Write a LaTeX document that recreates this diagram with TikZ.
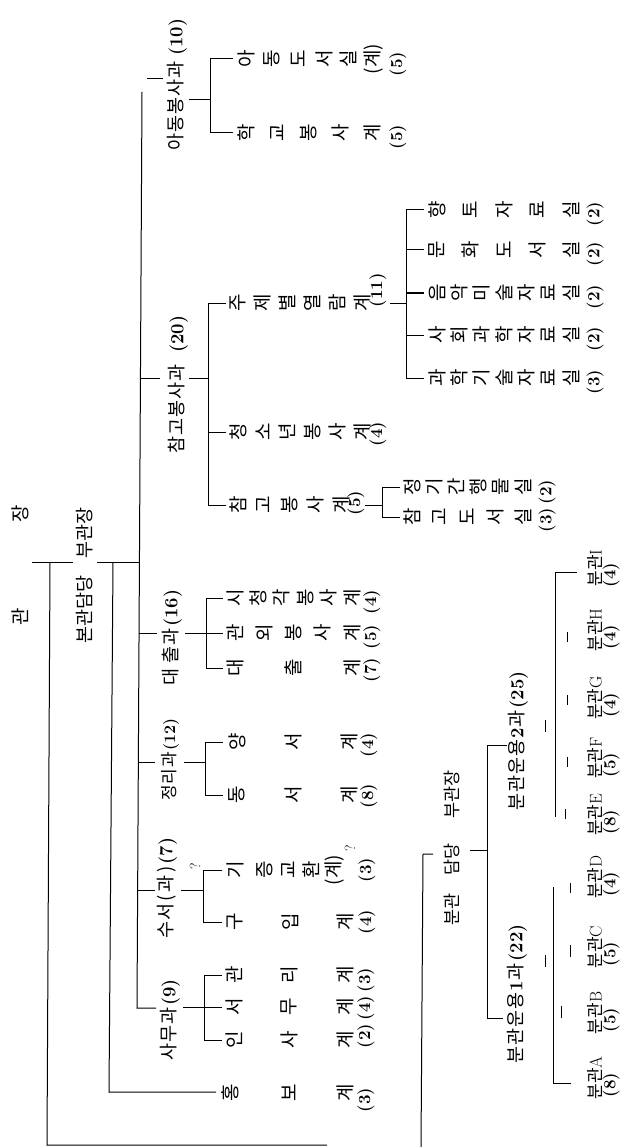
\documentclass[tikz,border=0pt]{standalone}
\usepackage{fontspec}
\newfontfamily\kr{Noto Sans CJK KR}
\newcommand\gp{\kern1pt}
\newcommand\cnum[1]{{\rmfamily\bfseries #1}}
\newcommand\leaf[3]{\foreach \gx/\gt [count=\gi] in {#3}{\node[kg] (#1-\gi) at (\gx,#2) {\gt};}}
\tikzset{
  ln/.style={line width=1pt},
  kg/.style={rotate=90,inner sep=0pt,font=\kr\fontsize{19}{19}\selectfont},
  dept/.style={rotate=90,inner sep=0pt,anchor=west,font=\kr\fontsize{18.5}{18.5}\selectfont},
  cnt/.style={rotate=90,inner sep=0pt,font=\rmfamily\bfseries\fontsize{17}{17}\selectfont},
  br/.style={rotate=90,inner sep=0pt,font=\kr\fontsize{17}{17}\selectfont},
  qm/.style={rotate=90,inner sep=0pt,font=\rmfamily\fontsize{15}{15}\selectfont},
}
\begin{document}
\begin{tikzpicture}[x=1pt,y=-1pt]
\fill[white] (0,0) rectangle (621,1147);
\useasboundingbox (0,0) rectangle (621,1147);

% ---------- root ----------
\node[dept,anchor=center,font=\kr\fontsize{19}{19}\selectfont] (root) at (20,565) {관\kern86pt 장};
\node[dept,font=\kr\fontsize{18.5}{18.5}\selectfont] (bon) at (85,644) {본관담당\kern17pt 부관장};
\coordinate (j0) at (32,562);
\coordinate (j1) at (73,562);
\coordinate (j2) at (97,562);
\coordinate (j3) at (139.5,562);
\draw[ln] (j0) -- (j1);
\draw[ln] (j2) -- (j3);
\coordinate (lA) at (50,562);
\coordinate (lB) at (47,1145);
\coordinate (lC) at (327,1145);
\draw[ln] (lA) -- (lB) -- (lC);
\coordinate (hA) at (113,562);
\coordinate (hB) at (109,1092);
\coordinate (hC) at (216,1092);
\draw[ln] (hA) -- (hB) -- (hC);
\coordinate (mA) at (142,92);
\coordinate (mB) at (137,1008);
\coordinate (mC) at (156,1008);
\draw[ln] (mA) -- (mB) -- (mC);

% ---------- departments ----------
\node[dept] (adong) at (177,151) {아\gp 동\gp 봉\gp 사\gp 과\kern6pt\cnum{(10)}};
\node[dept] (chamgo) at (178,454) {참\gp 고\gp 봉\gp 사\gp 과\kern12pt\cnum{(20)}};
\node[dept] (daechul) at (172,686) {대\kern5pt 출\gp 과\kern2pt\cnum{(16)}};
\node[dept,font=\kr\fontsize{17}{17}\selectfont] (jeongri) at (170,801) {정\kern1pt 리\kern1pt 과\kern1pt{\fontsize{16}{16}\selectfont\cnum{(12)}}};
\node[dept] (suseo) at (167,939) {수\gp 서\kern2pt(\kern3pt 과\kern3pt)\kern2pt\cnum{(7)}};
\node[dept] (samu) at (170,1061) {사\gp 무\gp 과\kern2pt\cnum{(9)}};
\node[qm] (q1) at (195,866) {?};

% stubs from main bar
\draw[ln] (147,79) -- (163,79);
\draw[ln] (140.5,378) -- (160,378);
\draw[ln] (139,633) -- (157,633);
\draw[ln] (138.5,762) -- (155,762);
\draw[ln] (138,890) -- (155,890);

% connectors to children bars
\draw[ln] (189,100) -- (210,100);
\draw[ln] (189,378) -- (208,378);
\draw[ln] (185,633) -- (206,633);
\draw[ln] (184,762) -- (205,762);
\draw[ln] (181,890) -- (203,890);
\draw[ln] (183,1007) -- (204,1007);

% children bars
\draw[ln] (233,59) -- (210,59) -- (210,133) -- (233,133);
\draw[ln] (226,303) -- (208,303) -- (208,505) -- (226,505);
\draw[ln] (208,432) -- (226,432);
\draw[ln] (223,598) -- (206,598) -- (206,668) -- (223,668);
\draw[ln] (206,633) -- (223,633);
\draw[ln] (223,742) -- (205,742) -- (205,795) -- (223,795);
\draw[ln] (222,870) -- (203,870) -- (203,922) -- (222,922);
\draw[ln] (222,975) -- (204,975) -- (204,1040) -- (222,1040);
\draw[ln] (204,1007) -- (222,1007);
\draw[ln] (390,303) -- (406,303);
\draw[ln] (424,210) -- (406,210) -- (406,378) -- (424,378);
\draw[ln] (406,250) -- (424,250);
\draw[ln] (406,293) -- (424,293);
\draw[ln] (406,335) -- (424,335);
\draw[ln] (365,505) -- (382,505);
\draw[ln] (400,487) -- (382,487) -- (382,517) -- (400,517);

% ---------- leaves ----------
\leaf{a1}{59}{246/아,272/동,298/도,324/서,348/실,373/{(계)}}
\node[cnt] (a1c) at (398,64) {(5)};
\leaf{a2}{133}{246/학,277.5/교,309/봉,340.5/사,372/계}
\node[cnt] (a2c) at (398,137) {(5)};

\leaf{b1}{303}{238/주,262.8/제,287.6/별,312.4/열,337.2/람,362/계}
\node[cnt] (b1c) at (378,290) {(11)};
\leaf{b2}{432}{238/청,262.8/소,287.6/년,312.4/봉,337.2/사,362/계}
\node[cnt] (b2c) at (378,434) {(4)};
\leaf{b3}{505}{238/참,263.8/고,289.5/봉,315.3/사,341/계}
\node[cnt] (b3c) at (356,503) {(5)};

\leaf{c1}{210}{437/향,470.5/토,504/자,537.5/료,571/실}
\node[cnt] (c1c) at (595,214) {(2)};
\leaf{c2}{250}{437/문,470.5/화,504/도,537.5/서,571/실}
\node[cnt] (c2c) at (595,254) {(2)};
\leaf{c3}{293}{437/음,459.3/악,481.7/미,504/술,526.3/자,548.7/료,571/실}
\node[cnt] (c3c) at (595,297) {(2)};
\leaf{c4}{335}{437/사,459.3/회,481.7/과,504/학,526.3/자,548.7/료,571/실}
\node[cnt] (c4c) at (595,339) {(2)};
\leaf{c5}{378}{437/과,459.3/학,481.7/기,504/술,526.3/자,548.7/료,571/실}
\node[cnt] (c5c) at (595,382) {(3)};

\leaf{d1}{487}{412/정,434.2/기,456.4/간,478.6/행,500.8/물,523/실}
\node[cnt] (d1c) at (547,492) {(2)};
\leaf{d2}{517}{412/참,439.8/고,467.5/도,495.3/서,523/실}
\node[cnt] (d2c) at (547,520) {(3)};

\leaf{e1}{598}{235/시,258.4/청,281.8/각,305.2/봉,328.6/사,352/계}
\node[cnt] (e1c) at (372,602) {(4)};
\leaf{e2}{633}{235/관,264.3/외,293.5/봉,322.8/사,352/계}
\node[cnt] (e2c) at (372,637) {(5)};
\leaf{e3}{668}{235/대,293.5/출,352/계}
\node[cnt] (e3c) at (372,670) {(7)};

\leaf{f1}{742}{237/양,293/서,349/계}
\node[cnt] (f1c) at (369,745) {(4)};
\leaf{f2}{795}{237/동,293/서,349/계}
\node[cnt] (f2c) at (369,796) {(8)};

\leaf{g1}{870}{235/기,265/증,289/교,311/환,334/{(계)}}
\node[qm] (q2) at (350,848) {?};
\node[cnt] (g1c) at (367,870) {(3)};
\leaf{g2}{922}{235/구,290/입,345/계}
\node[cnt] (g2c) at (367,922) {(4)};

\leaf{h1}{975}{234/관,289/리,345/계}
\node[cnt] (h1c) at (366,980) {(3)};
\leaf{h2}{1007}{234/서,289/무,345/계}
\node[cnt] (h2c) at (366,1008) {(4)};
\leaf{h3}{1040}{234/인,289/사,345/계}
\node[cnt] (h3c) at (366,1036) {(2)};

\leaf{i1}{1093}{230/홍,289/보,345/계}
\node[cnt] (i1c) at (366,1100) {(3)};

% ---------- branch libraries ----------
\node[dept,font=\kr\fontsize{17.5}{17.5}\selectfont] (bungwan) at (452,926) {분관\kern18pt 담당\kern25pt 부관장};
\draw[ln] (433,854) -- (423,854) -- (421,1147);
\draw[ln] (470,850) -- (487,850);
\draw[ln] (507,745) -- (487,745) -- (487,1018) -- (503,1018);

\node[dept] (un2) at (518,811) {분\gp 관\gp 운\gp 용\gp\cnum{2}\gp 과\kern2pt\cnum{(25)}};
\node[dept] (un1) at (517,1064) {분\gp 관\gp 운\gp 용\gp\cnum{1}\gp 과\kern2pt\cnum{(22)}};
\draw[ln] (545,720) -- (545,732);
\draw[ln] (545,955) -- (545,967);

\draw[ln] (577,572) -- (555,572) -- (555,817);
\draw[ln] (567,632) -- (567,642);
\draw[ln] (567,695) -- (567,705);
\draw[ln] (567,757) -- (567,767);
\draw[ln] (565,809) -- (565,819);
\draw[ln] (553,887) -- (553,1083) -- (571,1083);
\draw[ln] (570,883) -- (570,893);
\draw[ln] (570,945) -- (570,957);
\draw[ln] (561,1006) -- (561,1018);

\node[br] (bI) at (595,568) {분관\rmfamily I};
\node[br] (bH) at (595,630) {분관\rmfamily H};
\node[br] (bG) at (595,698) {분관\rmfamily G};
\node[br] (bF) at (595,758) {분관\rmfamily F};
\node[br] (bE) at (595,815) {분관\rmfamily E};
\node[br] (bD) at (595,877) {분관\rmfamily D};
\node[br] (bC) at (595,947) {분관\rmfamily C};
\node[br] (bB) at (595,1013) {분관\rmfamily B};
\node[br] (bA) at (595,1078) {분관\rmfamily A};
\node[cnt] (cI) at (611,575) {(4)};
\node[cnt] (cH) at (611,637) {(4)};
\node[cnt] (cG) at (611,705) {(4)};
\node[cnt] (cF) at (611,765) {(5)};
\node[cnt] (cE) at (611,822) {(8)};
\node[cnt] (cD) at (611,884) {(4)};
\node[cnt] (cC) at (611,954) {(5)};
\node[cnt] (cB) at (611,1020) {(5)};
\node[cnt] (cA) at (611,1085) {(8)};
\end{tikzpicture}
\end{document}
